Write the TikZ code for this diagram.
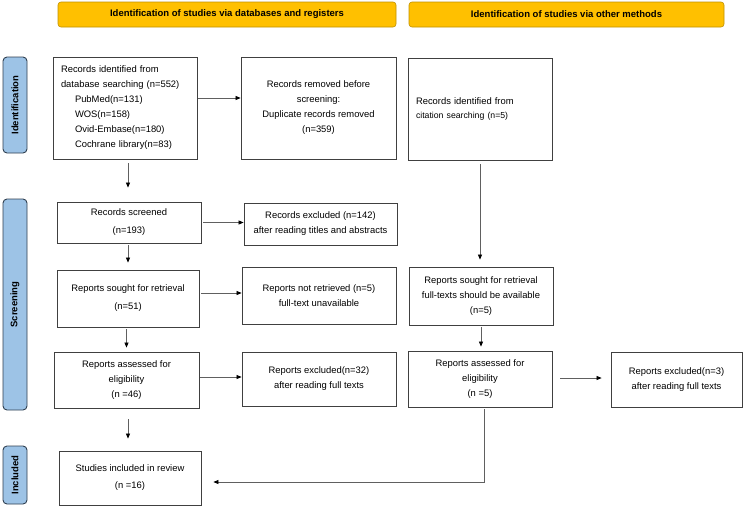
\documentclass[tikz,border=0pt]{standalone}
\usepackage{fontspec}
\setmainfont{Liberation Sans}
\usetikzlibrary{arrows.meta}
\definecolor{hdrfill}{HTML}{FFC000}
\definecolor{hdrline}{HTML}{C09000}
\definecolor{sidefill}{HTML}{9DC3E6}
\definecolor{sideline}{HTML}{2F3F50}
\definecolor{boxline}{HTML}{404040}
\definecolor{conline}{HTML}{606060}
\tikzset{
  box/.style={draw=boxline, line width=0.8pt, inner sep=0pt, align=center,
    font=\fontsize{9.4}{15}\selectfont},
  hdr/.style={draw=hdrline, fill=hdrfill, rounded corners=3pt, line width=0.6pt,
    inner sep=0pt, font=\fontsize{9.5}{11}\selectfont\bfseries},
  side/.style={draw=sideline, fill=sidefill, rounded corners=4pt, line width=0.9pt,
    inner sep=0pt},
  sidetxt/.style={rotate=90, font=\fontsize{9.5}{11}\selectfont\bfseries},
  arr/.style={draw=conline, line width=0.7pt, -{Triangle[length=5pt,width=4pt,fill=black,color=black]}},
}
\begin{document}
\begin{tikzpicture}[x=1pt,y=-1pt]
\useasboundingbox (0,0) rectangle (743,507);
% headers
\node[hdr, minimum width=338pt, minimum height=25pt] (h1) at (227,14.5) {Identification of studies via databases and registers};
\node[hdr, minimum width=315pt, minimum height=25pt] (h2) at (566.5,14.5) {Identification of studies via other methods};
% side bars
\node[side, minimum width=24pt, minimum height=96pt] (s1) at (15,105) {};
\node[sidetxt] (s1t) at (s1.center) {Identification};
\node[side, minimum width=24pt, minimum height=211pt] (s2) at (15,304.5) {};
\node[sidetxt] (s2t) at (s2.center) {Screening};
\node[side, minimum width=24pt, minimum height=58pt] (s3) at (15,475) {};
\node[sidetxt] (s3t) at (s3.center) {Included};
% boxes
\node[box, minimum width=144pt, minimum height=102pt, align=left, text width=128pt] (b1) at (125,108)
 {Records identified from\\database searching (n=552)\\\hspace*{14pt}PubMed(n=131)\\\hspace*{14pt}WOS(n=158)\\\hspace*{14pt}Ovid-Embase(n=180)\\\hspace*{14pt}Cochrane library(n=83)};
\node[box, minimum width=155pt, minimum height=102pt] (b2) at (318.5,108)
 {Records removed before\\screening:\\Duplicate records removed\\(n=359)};
\node[box, minimum width=144pt, minimum height=102pt, align=left, text width=128pt] (b3) at (480,109)
 {Records identified from\\[-1pt]{\fontsize{8.7}{15}\selectfont citation searching (n=5)}};
\node[box, minimum width=144pt, minimum height=41pt] (scr) at (129,222.5)
 {Records screened\\[3pt](n=193)};
\node[box, minimum width=153pt, minimum height=42pt] (exc1) at (320.5,224)
 {Records excluded (n=142)\\after reading titles and abstracts};
\node[box, minimum width=142pt, minimum height=57pt] (sought) at (128,298.5)
 {Reports sought for retrieval\\[3pt](n=51)};
\node[box, minimum width=154pt, minimum height=57pt] (notret) at (319,295.5)
 {Reports not retrieved (n=5)\\full-text unavailable};
\node[box, minimum width=144pt, minimum height=58pt] (soughtR) at (481,296)
 {Reports sought for retrieval\\full-texts should be available\\(n=5)};
\node[box, minimum width=145pt, minimum height=56pt] (assess) at (126.5,380)
 {Reports assessed for\\eligibility\\(n =46)};
\node[box, minimum width=154pt, minimum height=54pt] (exc2) at (319,379)
 {Reports excluded(n=32)\\after reading full texts};
\node[box, minimum width=144pt, minimum height=56pt] (assessR) at (480,379)
 {Reports assessed for\\eligibility\\(n =5)};
\node[box, minimum width=131pt, minimum height=55pt] (exc3) at (676.5,379.5)
 {Reports excluded(n=3)\\after reading full texts};
\node[box, minimum width=142pt, minimum height=54pt] (incl) at (130,478)
 {Studies included in review\\[2pt](n =16)};
% connectors
\coordinate (a1) at ([shift={(1,-10)}]b1.east);
\draw[arr] (a1) -- (a1 -| b2.west);
\draw[arr] ([shift={(3,4)}]b1.south) -- ([shift={(-1,-14)}]scr.north);
\draw[arr] ([xshift=2pt]scr.east) -- (scr.east -| exc1.west);
\draw[arr] ([shift={(-1,2)}]scr.south) -- ([yshift=7pt]sought.north);
\coordinate (a2) at ([shift={(2,-5.5)}]sought.east);
\draw[arr] (a2) -- (a2 -| notret.west);
\draw[arr] ([shift={(-1.5,2)}]sought.south) -- ([yshift=4pt]assess.north);
\coordinate (a3) at ([shift={(1,-3)}]assess.east);
\draw[arr] (a3) -- (a3 -| exc2.west);
\draw[arr] ([shift={(1.5,11)}]assess.south) -- ([shift={(-2,-12)}]incl.north);
\draw[arr] ([yshift=-4pt]b3.south) -- ([shift={(-1,-7)}]soughtR.north);
\draw[arr] ([yshift=-2pt]soughtR.south) -- ([shift={(1,-4)}]assessR.north);
\coordinate (a4) at ([shift={(8,-1)}]assessR.east);
\draw[arr] (a4) -- ([xshift=-9pt]a4 -| exc3.west);
\coordinate (inclin) at ([shift={(12,4)}]incl.east);
\draw[arr] ([shift={(4,2)}]assessR.south) |- (inclin);
\end{tikzpicture}
\end{document}
